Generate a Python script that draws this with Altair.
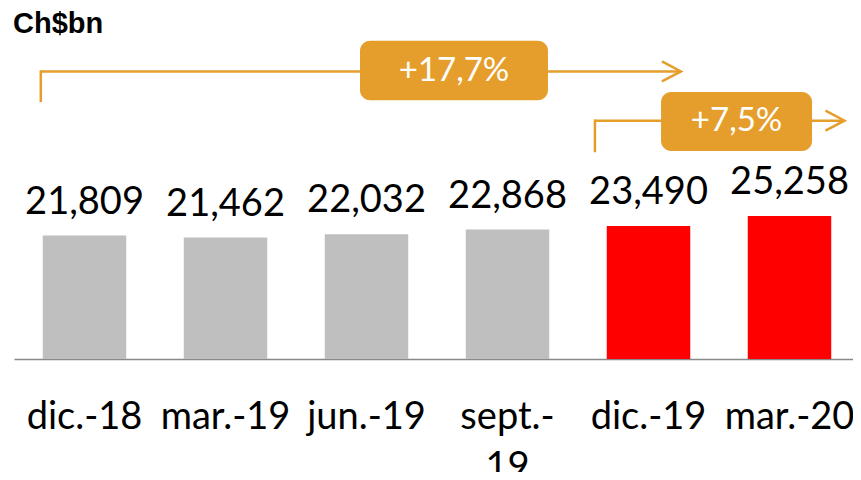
import altair as alt
import pandas as pd

# ---- chart data ----
categories = ["dic.-18", "mar.-19", "jun.-19", "sept.-19", "dic.-19", "mar.-20"]
values = [21.809, 21.462, 22.032, 22.868, 23.490, 25.258]
highlight = [0, 0, 0, 0, 1, 1]

# ---- growth annotations (x in category units, y in Ch$bn units) ----
growth_labels = ["+17,7%", "+7,5%"]
bracket_start = [0.19, 4.12]
bracket_end = [4.73, 5.89]
bracket_level = [50.8, 42.1]
bracket_drop = [45.6, 36.75]
box_left = [2.454, 4.589]
box_right = [3.787, 5.660]
box_top = [56.24, 47.17]
box_bottom = [45.71, 36.75]

ORANGE = "#E59E2B"
RANGE_W = 846
Y_MAX = 55.65

df = pd.DataFrame({
    "cat": categories,
    "value": values,
    "hl": highlight,
    "label": [f"{v:.3f}".replace(".", ",") for v in values],
})
ann = pd.DataFrame({
    "growth": growth_labels,
    "start": bracket_start,
    "end": bracket_end,
    "level": bracket_level,
    "drop": bracket_drop,
    "bx": box_left,
    "bx2": box_right,
    "btop": box_top,
    "bbot": box_bottom,
})

y_scale = alt.Scale(domain=[0, Y_MAX], nice=False, zero=True)
x_band = alt.Scale(domain=categories, range=[0, RANGE_W], paddingInner=0.408, paddingOuter=0.204)
x_lin = alt.Scale(domain=[0, 6], range=[0, RANGE_W], nice=False, zero=False)

x_axis = alt.Axis(
    orient="bottom",
    title=None, ticks=False, tickSize=0, grid=False,
    domainColor="#898989", domainWidth=1.5,
    labelFont="Lato", labelFontSize=38, labelColor="black",
    labelAngle=0, labelPadding=69, labelBaseline="alphabetic",
    labelLineHeight=50, labelOverlap=False, labelBound=False, labelLimit=400,
    labelExpr="length(datum.label) > 7 ? split(replace(datum.label, '-', '-|'), '|') : datum.label",
)
x_enc = alt.X("cat:N", sort=categories, scale=x_band, axis=x_axis)
y_enc = alt.Y("value:Q", scale=y_scale, axis=None)

base = alt.Chart(df)
bars = base.mark_bar().encode(
    x=x_enc,
    y=y_enc,
    color=alt.Color("hl:N", scale=alt.Scale(domain=[0, 1], range=["#BFBFBF", "#FF0000"]), legend=None),
)
vals = base.mark_text(font="Lato", fontSize=38, color="black", baseline="alphabetic", dy=-22).encode(
    x=x_enc,
    y=y_enc,
    text="label:N",
)

a = alt.Chart(ann)
xa = lambda f: alt.X(f, type="quantitative", scale=x_lin, axis=None)
ya = lambda f: alt.Y(f, type="quantitative", scale=y_scale, axis=None)
h_rules = a.mark_rule(color=ORANGE, strokeWidth=2.5).encode(
    x=xa("start"), x2="end", y=ya("level"),
)
v_rules = a.mark_rule(color=ORANGE, strokeWidth=2.5, strokeCap="square").encode(
    x=xa("start"), y=ya("level"), y2="drop",
)
arrows = a.mark_point(shape="M-1.9,-1L0,0L-1.9,1", size=400, filled=False,
                      strokeWidth=2.5, color=ORANGE, opacity=1).encode(
    x=xa("end"), y=ya("level"),
)
boxes = a.mark_rect(color=ORANGE, cornerRadius=10).encode(
    x=xa("bx"), x2="bx2", y=ya("btop"), y2="bbot",
)
box_text = a.transform_calculate(bc="(datum.bx + datum.bx2) / 2").mark_text(
    font="Lato", fontSize=33, color="white", baseline="middle", align="center"
).encode(
    x=xa("bc"), y=ya("level"), text="growth:N",
)

chart = alt.layer(
    alt.layer(bars, vals),
    alt.layer(h_rules, v_rules, arrows, boxes, box_text),
).resolve_scale(x="independent").properties(
    width=839, height=315,
    autosize=alt.AutoSizeParams(type="none"),
    padding={"left": 6, "top": 36, "right": 0, "bottom": 113},
    title=alt.TitleParams("Ch$bn", anchor="start", font="Liberation Sans", fontSize=29,
                          fontWeight="bold", color="black", offset=-27, baseline="bottom", dx=-1),
).configure_view(stroke=None)

chart.save("out.html", embed_options={"renderer": "svg", "actions": False})
